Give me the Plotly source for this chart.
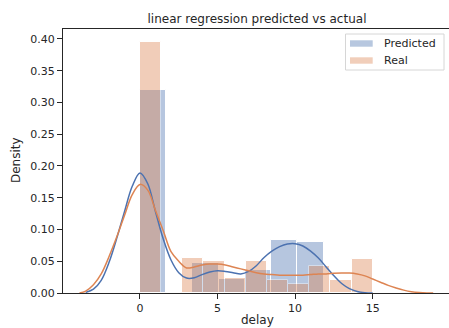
import plotly.graph_objects as go

# ---------------- data ----------------
pred_bin_start = 0.0
pred_bin_width = 1.69
pred_density = [0.320, 0.0, 0.0465, 0.022, 0.0367, 0.0828, 0.0796]

real_bin_start = 0.0
real_bin_width = 15.0 / 11
real_density = [0.395, 0.0, 0.0545, 0.051, 0.0236, 0.0508, 0.021, 0.0146, 0.042, 0.021, 0.0535]

pred_kde_x = [-3.5, -3.0, -2.5, -2.0, -1.5, -1.0, -0.5, 0.0, 0.5, 1.0, 1.5, 2.0, 2.5, 3.0,
              3.5, 4.0, 4.5, 5.0, 5.5, 6.0, 6.5, 7.0, 7.5, 8.0, 8.5, 9.0, 9.5, 10.0,
              10.5, 11.0, 11.5, 12.0, 12.5, 13.0, 13.5, 14.0, 14.5, 15.0]
pred_kde_y = [0.001, 0.006, 0.020, 0.048, 0.086, 0.128, 0.168, 0.189, 0.172, 0.128, 0.085,
              0.052, 0.032, 0.0235, 0.024, 0.029, 0.033, 0.035, 0.034, 0.032, 0.030, 0.034,
              0.043, 0.056, 0.066, 0.073, 0.077, 0.0775, 0.074, 0.066, 0.055, 0.041, 0.027,
              0.015, 0.007, 0.0025, 0.0005, 0.0]

real_kde_x = [-3.9, -3.5, -3.0, -2.5, -2.0, -1.5, -1.0, -0.5, 0.0, 0.5, 1.0, 1.5, 2.0, 2.5,
              3.0, 3.5, 4.0, 4.5, 5.0, 5.5, 6.0, 6.5, 7.0, 7.5, 8.0, 8.5, 9.0, 9.5, 10.0,
              10.5, 11.0, 11.5, 12.0, 12.5, 13.0, 13.5, 14.0, 14.5, 15.0, 15.5, 16.0, 16.5,
              17.0, 17.5, 18.0, 18.5, 18.9]
real_kde_y = [0.0, 0.003, 0.013, 0.030, 0.057, 0.088, 0.122, 0.155, 0.171, 0.162, 0.130,
              0.098, 0.065, 0.050, 0.0395, 0.041, 0.044, 0.0455, 0.0455, 0.044, 0.041, 0.038,
              0.035, 0.032, 0.030, 0.029, 0.028, 0.028, 0.028, 0.028, 0.029, 0.030, 0.030,
              0.031, 0.0315, 0.0315, 0.030, 0.027, 0.022, 0.017, 0.012, 0.008, 0.0045,
              0.002, 0.0007, 0.0001, 0.0]

series_names = ["Predicted", "Real"]
x_ticks = [0, 5, 10, 15]
y_ticks = [0.00, 0.05, 0.10, 0.15, 0.20, 0.25, 0.30, 0.35, 0.40]

# ---------------- styling ----------------
BLUE = "#4C72B0"
ORANGE = "#DD8452"
BLUE_A = "rgba(76,114,176,0.4)"
ORANGE_A = "rgba(221,132,82,0.4)"
INK = "#262626"
FONT = "DejaVu Sans"

W, H = 449, 328
ML, MR, MT, MB = 63, 0, 29, 35
plot_w = W - ML - MR
plot_h = H - MT - MB
BOTTOM = H - MB


def px_x(px):
    return (px - ML) / plot_w


def px_y(py):
    return (BOTTOM - py) / plot_h


def centers(start, width, n):
    return [start + width * (i + 0.5) for i in range(n)]


fig = go.Figure()

fig.add_trace(go.Bar(
    x=centers(pred_bin_start, pred_bin_width, len(pred_density)), y=pred_density,
    width=pred_bin_width, marker=dict(color=BLUE, line=dict(color="white", width=1)),
    opacity=0.4, showlegend=False, hoverinfo="skip", name=series_names[0]))
fig.add_trace(go.Scatter(x=pred_kde_x, y=pred_kde_y, mode="lines",
                         line=dict(color=BLUE, width=1.5, shape="spline"),
                         showlegend=False, hoverinfo="skip"))
fig.add_trace(go.Bar(
    x=centers(real_bin_start, real_bin_width, len(real_density)), y=real_density,
    width=real_bin_width, marker=dict(color=ORANGE, line=dict(color="white", width=1)),
    opacity=0.4, showlegend=False, hoverinfo="skip", name=series_names[1]))
fig.add_trace(go.Scatter(x=real_kde_x, y=real_kde_y, mode="lines",
                         line=dict(color=ORANGE, width=1.5, shape="spline"),
                         showlegend=False, hoverinfo="skip"))

x0, x1 = -4.963, 19.92
y0, y1 = 0.0, 0.4157

fig.update_layout(
    width=W, height=H,
    margin=dict(l=ML, r=MR, t=MT, b=MB, pad=0),
    paper_bgcolor="white", plot_bgcolor="white",
    barmode="overlay", bargap=0, showlegend=False,
    font=dict(family=FONT, size=11, color=INK),
    title=dict(text="linear regression predicted vs actual",
               font=dict(family=FONT, size=12, color=INK),
               x=px_x(257), xref="paper", xanchor="center",
               y=1 - 19 / H, yref="container", yanchor="middle"),
    xaxis=dict(range=[x0, x1], tickvals=x_ticks, ticktext=[str(t) for t in x_ticks],
               showgrid=False, zeroline=False, showline=True, linecolor=INK, linewidth=1.2,
               mirror=True, ticks="outside", ticklen=5, tickwidth=1, tickcolor=INK,
               tickfont=dict(family=FONT, size=11, color=INK)),
    yaxis=dict(range=[y0, y1], tickvals=y_ticks, ticktext=[f"{t:.2f}" for t in y_ticks],
               showgrid=False, zeroline=False, showline=True, linecolor=INK, linewidth=1.2,
               ticks="outside", ticklen=5, tickwidth=1, tickcolor=INK,
               tickfont=dict(family=FONT, size=11, color=INK)),
)

# legend (drawn as a matplotlib-style box)
fig.add_shape(type="rect", xref="paper", yref="paper",
              x0=px_x(345.5), x1=px_x(444), y0=px_y(70), y1=px_y(34),
              line=dict(color="#d6d6d6", width=1), fillcolor="rgba(255,255,255,0.8)",
              layer="above")
for i, (name, col) in enumerate(zip(series_names, [BLUE_A, ORANGE_A])):
    cy = 43.5 + 17 * i
    fig.add_shape(type="rect", xref="paper", yref="paper",
                  x0=px_x(350), x1=px_x(372.7), y0=px_y(cy + 3.2), y1=px_y(cy - 3.2),
                  line=dict(width=0), fillcolor=col, layer="above")
    fig.add_annotation(text=name, xref="paper", yref="paper",
                       x=px_x(382), y=px_y(cy), xanchor="left", yanchor="middle",
                       showarrow=False, font=dict(family=FONT, size=11, color=INK))

# axis titles
fig.add_annotation(text="delay", xref="paper", yref="paper",
                   x=px_x(257), y=px_y(320),
                   xanchor="center", yanchor="middle", showarrow=False,
                   font=dict(family=FONT, size=12, color=INK))
fig.add_annotation(text="Density", xref="paper", yref="paper",
                   x=px_x(16), y=px_y(160),
                   xanchor="center", yanchor="middle", textangle=-90, showarrow=False,
                   font=dict(family=FONT, size=12, color=INK))

fig.write_html("out.html")
